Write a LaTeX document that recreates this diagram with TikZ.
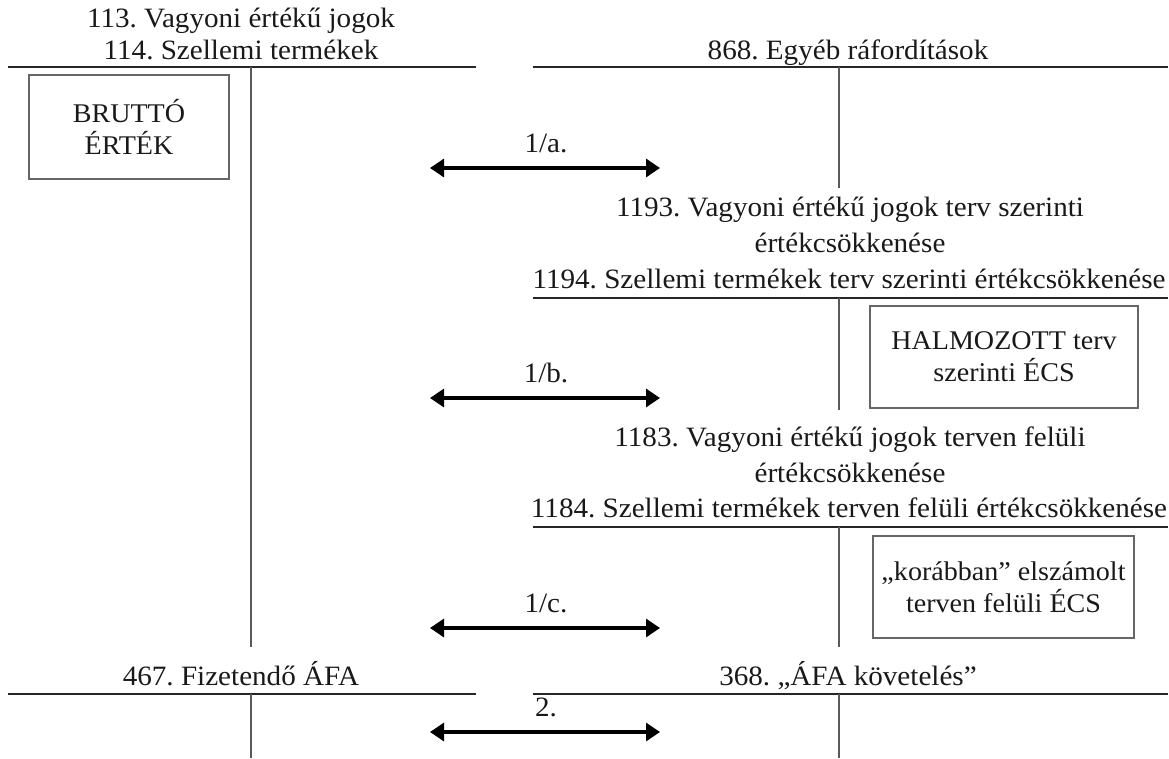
\documentclass[tikz,border=0pt]{standalone}
\usepackage{fontspec}
\setmainfont[FakeStretch=1.04]{Liberation Serif}
\usetikzlibrary{arrows.meta}
\begin{document}
\frenchspacing
\begin{tikzpicture}[x=1pt,y=-1pt,
  every node/.style={font=\fontsize{28}{32}\selectfont, text=black!90, inner sep=0pt},
  ttl/.style={anchor=base},
  tline/.style={line width=1.3pt, draw=black!85},
  vline/.style={line width=1.3pt, draw=black!65},
  accbox/.style={draw=black!60, line width=1.3pt, align=center, font=\fontsize{27}{32}\selectfont},
  arr/.style={line width=3.2pt, {Triangle[length=14pt,width=18pt]}-{Triangle[length=14pt,width=18pt]}}
]
\useasboundingbox (0,0) rectangle (1169,758);

% ---- T-account 113/114
\node[ttl] (t113) at (241,27) {113. Vagyoni értékű jogok};
\node[ttl] (t114) at (241,59) {114. Szellemi termékek};
\coordinate (a1l) at (8,67); \coordinate (a1r) at (476,67);
\coordinate (a1t) at (251,67); \coordinate (a1b) at (251,647);
\draw[tline] (a1l) -- (a1r);
\draw[vline] (a1t) -- (a1b);
\node[accbox, minimum width=200pt, minimum height=104pt] (brutto) at (129,127) {BRUTTÓ\\ÉRTÉK};

% ---- T-account 868
\node[ttl] (t868) at (848,59) {868. Egyéb ráfordítások};
\coordinate (a2l) at (533,67); \coordinate (a2r) at (1168,67);
\coordinate (a2t) at (839,67); \coordinate (a2b) at (839,188);
\draw[tline] (a2l) -- (a2r);
\draw[vline] (a2t) -- (a2b);

% ---- T-account 1193/1194
\node[ttl] (t1193) at (850,216) {1193. Vagyoni értékű jogok terv szerinti};
\node[ttl] (t1193b) at (850,252) {értékcsökkenése};
\node[ttl] (t1194) at (849,288) {1194. Szellemi termékek terv szerinti értékcsökkenése};
\coordinate (a3l) at (533,298); \coordinate (a3r) at (1168,298);
\coordinate (a3t) at (839,298); \coordinate (a3b) at (839,410);
\draw[tline] (a3l) -- (a3r);
\draw[vline] (a3t) -- (a3b);
\node[accbox, minimum width=268pt, minimum height=102pt] (halm) at (1004,357) {HALMOZOTT terv\\szerinti ÉCS};

% ---- T-account 1183/1184
\node[ttl] (t1183) at (850,446) {1183. Vagyoni értékű jogok terven felüli};
\node[ttl] (t1183b) at (850,482) {értékcsökkenése};
\node[ttl] (t1184) at (849,517) {1184. Szellemi termékek terven felüli értékcsökkenése};
\coordinate (a4l) at (533,527); \coordinate (a4r) at (1168,527);
\coordinate (a4t) at (839,527); \coordinate (a4b) at (839,647);
\draw[tline] (a4l) -- (a4r);
\draw[vline] (a4t) -- (a4b);
\node[accbox, minimum width=261pt, minimum height=102pt] (korabban) at (1003.5,587) {„korábban” elszámolt\\terven felüli ÉCS};

% ---- T-account 467
\node[ttl] (t467) at (241,685) {467. Fizetendő ÁFA};
\coordinate (a5l) at (8,694); \coordinate (a5r) at (476,694);
\coordinate (a5t) at (251,694); \coordinate (a5b) at (251,758);
\draw[tline] (a5l) -- (a5r);
\draw[vline] (a5t) -- (a5b);

% ---- T-account 368
\node[ttl] (t368) at (848,685) {368. „ÁFA követelés”};
\coordinate (a6l) at (533,694); \coordinate (a6r) at (1168,694);
\coordinate (a6t) at (839,694); \coordinate (a6b) at (839,758);
\draw[tline] (a6l) -- (a6r);
\draw[vline] (a6t) -- (a6b);

% ---- arrows
\coordinate (r1l) at (430,168); \coordinate (r1r) at (660,168);
\draw[arr] (r1l) -- (r1r);
\node[ttl] (l1a) at (546,152) {1/a.};
\coordinate (r2l) at (430,398); \coordinate (r2r) at (660,398);
\draw[arr] (r2l) -- (r2r);
\node[ttl] (l1b) at (546,382) {1/b.};
\coordinate (r3l) at (430,628); \coordinate (r3r) at (660,628);
\draw[arr] (r3l) -- (r3r);
\node[ttl] (l1c) at (546,612) {1/c.};
\coordinate (r4l) at (430,732); \coordinate (r4r) at (660,732);
\draw[arr] (r4l) -- (r4r);
\node[ttl] (l2) at (546,716) {2.};
\end{tikzpicture}
\end{document}
